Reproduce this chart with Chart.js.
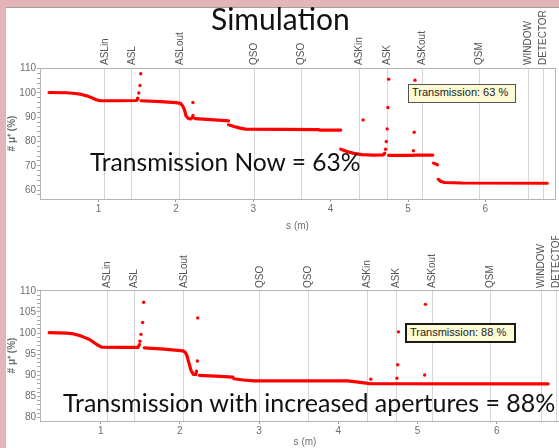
<!DOCTYPE html>
<html>
<head>
<meta charset="utf-8">
<script src="https://cdn.jsdelivr.net/npm/chart.js@4/dist/chart.umd.min.js"></script>
<style>
  html, body { margin: 0; padding: 0; }
  body { width: 559px; height: 448px; overflow: hidden; background: #e3b5b8; position: relative;
         font-family: "Liberation Sans", Arial, sans-serif; }
  #panel { position: absolute; left: 6px; top: 7px; width: 600px; height: 460px; background: #fff;
           border-top: 1px solid #a0a0a0; }
  canvas { position: absolute; left: 0; }
  #c1 { top: 0; }
  #c2 { top: 236px; }
  .big { position: absolute; font-family: Lato, "Open Sans", sans-serif; color: #111; white-space: nowrap; line-height: 1; }
  #title { left: 211px; top: 3px; font-size: 30px; }
  #note1 { left: 90px; top: 150px; font-size: 24.6px; }
  #note2 { left: 63px; top: 390px; font-size: 25px; }
  .tip { position: absolute; box-sizing: border-box; background: #fdfbd6; color: #222; font-size: 11px;
         line-height: 15px; padding-left: 3px; white-space: nowrap; }
  #tip1 { left: 408px; top: 84px; width: 108px; height: 19px; border: 1.5px solid #555; }
  #tip2 { left: 405px; top: 323px; width: 111px; height: 20px; border: 2px solid #1a1a1a; }
</style>
</head>
<body>
<div id="panel"></div>
<canvas id="c1" width="559" height="236"></canvas>
<canvas id="c2" width="580" height="212"></canvas>
<div class="big" id="title">Simulation</div>
<div class="big" id="note1">Transmission Now = 63%</div>
<div class="big" id="note2">Transmission with increased apertures = 88%</div>
<div class="tip" id="tip1">Transmission: 63 %</div>
<div class="tip" id="tip2">Transmission: 88 %</div>
<script>
// Beamline elements marked along the top of both plots (position s in metres)
const elementNames = ['ASLin', 'ASL', 'ASLout', 'QSO', 'QSO', 'ASKin', 'ASK', 'ASKout', 'QSM', 'WINDOW', 'DETECTOR'];
const elementS = [1.08, 1.43, 2.05, 3.01, 3.62, 4.37, 4.73, 5.19, 5.92, 6.56, 6.75];

// Labelled y ticks of each plot
const nowYLabels = [60, 70, 80, 90, 100, 110];
const wideYLabels = [80, 85, 90, 95, 100, 105, 110];

// Present apertures: surviving muon fraction (%) vs s; null separates tracked sections
const nowS   = [0.36, 0.58, 0.70, 0.78, 0.86, 0.92, 0.97, 1.02, 1.25, 1.49, 1.51, null,
                1.55, 1.80, 2.00, 2.06, 2.09, 2.11, 2.13, 2.16, 2.19, 2.21, 2.22, null,
                2.25, 2.45, 2.68, null,
                2.68, 2.75, 2.83, 2.90, 3.40, 3.84, 3.86, 4.13, null,
                4.13, 4.22, 4.30, 4.40, 4.55, 4.68, 4.70, null,
                4.75, 5.05, 5.09, 5.32, null,
                5.33, 5.38, null,
                5.39, 5.42, 5.47, 5.70, 6.80];
const nowPct = [100.2, 100.1, 99.8, 99.4, 98.7, 97.9, 97.2, 96.8, 96.8, 96.9, 97.6, null,
                96.8, 96.4, 96.0, 95.7, 94.5, 93.1, 90.6, 89.5, 89.3, 89.8, 90.8, null,
                89.4, 89.0, 88.5, null,
                86.9, 86.2, 85.5, 85.1, 85.0, 84.9, 84.7, 84.7, null,
                76.8, 75.8, 75.1, 74.6, 74.4, 74.5, 75.2, null,
                74.3, 74.3, 74.4, 74.4, null,
                71.1, 70.4, null,
                64.4, 63.6, 63.1, 62.9, 62.8];
// Isolated tracking points (particles scattered near element entrances)
const nowDotS   = [1.505, 1.52, 1.535, 1.545, 2.22, 4.42, 4.71, 4.72, 4.73, 4.74, 4.75, 5.07, 5.08, 5.09];
const nowDotPct = [97.9, 100.0, 103.1, 107.9, 96.1, 88.9, 76.8, 80.0, 85.2, 94.0, 105.7, 76.2, 83.8, 105.3];

// Increased apertures
const wideS   = [0.35, 0.57, 0.66, 0.74, 0.86, 0.95, 1.01, 1.25, 1.47, 1.49, null,
                 1.55, 1.80, 2.04, 2.07, 2.09, 2.11, 2.14, 2.17, 2.20, 2.21, null,
                 2.245, 2.45, 2.67, null,
                 2.68, 2.80, 2.93, 4.12, 4.25, 4.40, 6.65];
const widePct = [100.1, 100.0, 99.8, 99.4, 98.5, 97.3, 96.7, 96.6, 96.6, 97.3, null,
                 96.5, 96.2, 95.8, 95.4, 94.6, 93.2, 91.2, 90.2, 90.2, 91.0, null,
                 90.0, 89.8, 89.6, null,
                 89.2, 88.9, 88.7, 88.7, 88.4, 88.05, 88.0];
const wideDotS   = [1.496, 1.509, 1.53, 1.543, 2.225, 2.22, 4.41, 4.74, 4.75, 4.76, 5.09, 5.10];
const wideDotPct = [98.1, 99.7, 102.5, 107.3, 103.6, 93.4, 89.1, 89.3, 92.5, 100.3, 90.1, 106.8];

const pts = (xs, ys) => xs.map((x, i) => ({ x: x, y: ys[i] }));

const axisFont = { family: '"Liberation Sans", Arial, sans-serif', size: 10 };
const axisGrey = '#6e6e6e';

// Plot frame drawn around the chart area
const framePlugin = {
  id: 'frame',
  afterDatasetsDraw(chart) {
    const a = chart.chartArea, ctx = chart.ctx;
    ctx.save();
    ctx.strokeStyle = '#b4b4b4';
    ctx.lineWidth = 1;
    ctx.strokeRect(Math.round(a.left) + 0.5, Math.round(a.top) + 0.5,
                   Math.round(a.right - a.left), Math.round(a.bottom - a.top));
    ctx.restore();
  }
};

// Minor y ticks every `step`, labels only on the listed major values
function yTicks(scale, step) {
  const out = [];
  for (let v = Math.ceil(scale.min / step) * step; v <= scale.max + 1e-9; v += step) {
    out.push({ value: Math.round(v * 1000) / 1000 });
  }
  scale.ticks = out;
}

function makeChart(id, cfg) {
  return new Chart(document.getElementById(id), {
    type: 'scatter',
    data: {
      datasets: [
        { data: pts(cfg.lineS, cfg.linePct), showLine: true, spanGaps: false,
          borderColor: '#ff0000', borderWidth: 3.2, borderCapStyle: 'round', borderJoinStyle: 'round',
          pointRadius: 0, xAxisID: 'x', yAxisID: 'y' },
        { data: pts(cfg.dotS, cfg.dotPct), showLine: false, pointRadius: 1.7, pointBorderWidth: 0,
          backgroundColor: '#ff0000', borderColor: '#ff0000', xAxisID: 'x', yAxisID: 'y' }
      ]
    },
    options: {
      responsive: false,
      animation: false,
      events: [],
      layout: { padding: { left: 0, right: cfg.padRight, top: 0, bottom: 0 } },
      plugins: { legend: { display: false }, tooltip: { enabled: false } },
      scales: {
        x: {
          type: 'linear', position: 'bottom', min: cfg.xMin, max: cfg.xMax,
          afterFit: s => { s.height = cfg.bottomH; s.paddingLeft = 0; s.paddingRight = 0; },
          border: { display: false },
          grid: { drawOnChartArea: false, tickLength: 3, color: '#9a9a9a' },
          ticks: { stepSize: 1, includeBounds: false, padding: 1, color: axisGrey, font: axisFont, maxRotation: 0 },
          title: { display: true, text: 's (m)', color: axisGrey, font: axisFont,
                   padding: { top: 0, bottom: cfg.xTitlePad } }
        },
        xTop: {
          type: 'linear', position: 'top', min: cfg.xMin, max: cfg.xMax,
          afterBuildTicks: s => { s.ticks = elementS.map(v => ({ value: v })); },
          afterFit: s => { s.height = cfg.topH; s.paddingLeft = 0; s.paddingRight = 0; },
          border: { display: false },
          grid: { drawOnChartArea: true, drawTicks: false, color: '#d6d6d6', lineWidth: 1 },
          ticks: { autoSkip: false, minRotation: 90, maxRotation: 90, padding: cfg.topPad, labelOffset: 12,
                   color: '#555', font: axisFont,
                   callback: (v, i) => elementNames[i] }
        },
        y: {
          position: 'left', min: cfg.yMin, max: cfg.yMax,
          afterBuildTicks: s => yTicks(s, cfg.yMinor),
          afterFit: s => { s.width = 40; s.paddingTop = 0; s.paddingBottom = 0; },
          border: { display: false },
          grid: { drawOnChartArea: false, tickLength: 3, color: '#a8a8a8' },
          ticks: { autoSkip: false, padding: 1, color: axisGrey, font: axisFont,
                   callback: v => (cfg.yLabels.includes(v) ? String(v) : '') },
          title: { display: true, text: '# \u03BC\u207A (%)', color: axisGrey,
                   font: { family: axisFont.family, size: 10, weight: 'bold' },
                   padding: { top: 6, bottom: 0 } }
        }
      }
    },
    plugins: [framePlugin]
  });
}

makeChart('c1', {
  lineS: nowS, linePct: nowPct, dotS: nowDotS, dotPct: nowDotPct, yLabels: nowYLabels,
  xMin: 0.243, xMax: 6.90, yMin: 56.3, yMax: 110.3, yMinor: 2,
  topH: 68, bottomH: 37, topPad: 3, xTitlePad: 4, padRight: 1
});

makeChart('c2', {
  lineS: wideS, linePct: widePct, dotS: wideDotS, dotPct: wideDotPct, yLabels: wideYLabels,
  xMin: 0.234, xMax: 6.925, yMin: 79.2, yMax: 110.2, yMinor: 1,
  topH: 54, bottomH: 27, topPad: 2, xTitlePad: 0, padRight: 10
});
</script>
</body>
</html>
